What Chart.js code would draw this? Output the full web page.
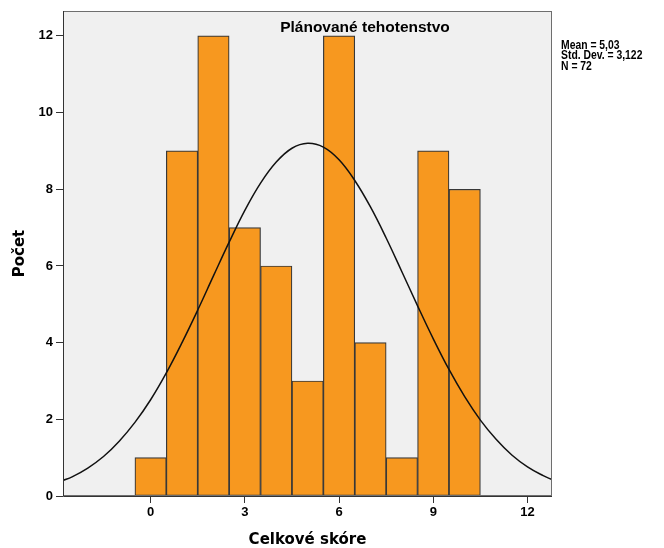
<!DOCTYPE html>
<html>
<head>
<meta charset="utf-8">
<script src="https://cdn.jsdelivr.net/npm/chart.js@4/dist/chart.umd.min.js"></script>
<style>
    html, body { margin: 0; padding: 0; background: #fff; }
    #wrap { width: 664px; height: 548px; }
</style>
</head>
<body>
<div id="wrap"><canvas id="chart" width="664" height="548"></canvas></div>
<script>
// Histogram: Celkové skóre (Plánované tehotenstvo)
const scores = [0, 1, 2, 3, 4, 5, 6, 7, 8, 9, 10];
const counts = [1, 9, 12, 7, 6, 3, 12, 4, 1, 9, 8];

// normálna krivka, odčítaná z obrázka
const curveX = [-2.8, -2.5, -2, -1.5, -1, -0.5, 0, 0.5, 1, 1.5, 2, 2.5, 3, 3.5, 4, 4.5, 5,
    5.5, 6, 6.5, 7, 7.5, 8, 8.5, 9, 9.5, 10, 10.5, 11, 11.5, 12, 12.5, 12.8];
const curveY = [0.40, 0.50, 0.73, 1.03, 1.43, 1.92, 2.51, 3.21, 4.00, 4.85, 5.74, 6.62, 7.45, 8.16, 8.71, 9.07, 9.20,
    9.10, 8.77, 8.23, 7.54, 6.73, 5.85, 4.96, 4.10, 3.30, 2.59, 1.98, 1.48, 1.07, 0.76, 0.53, 0.42];

const xTicks = [0, 3, 6, 9, 12];
const yTicks = [0, 2, 4, 6, 8, 10, 12];

const stats = ['Mean = 5,03', 'Std. Dev. = 3,122', 'N = 72'];
const panelTitle = 'Plánované tehotenstvo';

const FONT = "'Liberation Sans', Arial, sans-serif";
const TITLE_FONT = "'DejaVu Sans', Verdana, sans-serif";

const frame = {
    id: 'frame',
    beforeDatasetsDraw(chart) {
        const { ctx, chartArea: a } = chart;
        ctx.save();
        ctx.fillStyle = '#f0f0f0';
        ctx.fillRect(a.left, a.top, a.right - a.left, a.bottom - a.top);
        ctx.restore();
    },
    afterDraw(chart) {
        const { ctx, chartArea: a } = chart;
        ctx.save();
        ctx.strokeStyle = '#6e6e6e';
        ctx.lineWidth = 1;
        ctx.strokeRect(a.left + 0.5, a.top + 0.5, a.right - a.left - 1, a.bottom - a.top - 1);
        ctx.strokeStyle = '#333';
        ctx.beginPath();
        ctx.moveTo(a.left + 0.5, a.top);
        ctx.lineTo(a.left + 0.5, a.bottom + 0.5);
        ctx.lineTo(a.right, a.bottom + 0.5);
        ctx.stroke();

        // nadpis vo vnútri grafu
        ctx.fillStyle = '#000';
        ctx.font = 'bold 15.5px ' + FONT;
        ctx.textAlign = 'center';
        ctx.textBaseline = 'middle';
        ctx.fillText(panelTitle, 365, 28);

        // štatistiky vpravo (zúžené písmo)
        ctx.font = 'bold 12.5px ' + FONT;
        ctx.textAlign = 'left';
        ctx.textBaseline = 'alphabetic';
        stats.forEach((s, i) => {
            ctx.save();
            ctx.translate(561, 48.5 + i * 10.6);
            ctx.scale(0.83, 1);
            ctx.fillText(s, 0, 0);
            ctx.restore();
        });
        ctx.restore();
    }
};

const ctx = document.getElementById('chart').getContext('2d');
new Chart(ctx, {
    type: 'bar',
    data: {
        datasets: [
            {
                type: 'line',
                data: curveX.map((x, i) => ({ x: x, y: curveY[i] })),
                borderColor: '#111',
                borderWidth: 1.5,
                pointRadius: 0,
                tension: 0.4,
                fill: false,
                order: 0
            },
            {
                type: 'bar',
                data: scores.map((x, i) => ({ x: x, y: counts[i] })),
                backgroundColor: '#f7981f',
                borderColor: '#383838',
                borderWidth: 1.2,
                borderSkipped: false,
                barPercentage: 1,
                categoryPercentage: 1,
                order: 1
            }
        ]
    },
    options: {
        responsive: false,
        animation: false,
        layout: { padding: { left: 0, top: 11, right: 112, bottom: 0 } },
        plugins: {
            legend: { display: false },
            tooltip: { enabled: false },
            title: { display: false }
        },
        scales: {
            x: {
                type: 'linear',
                min: -2.79,
                max: 12.78,
                offset: false,
                afterBuildTicks: s => { s.ticks = xTicks.map(v => ({ value: v })); },
                afterFit: s => { s.height = 52; },
                grid: { drawOnChartArea: false, drawTicks: true, tickLength: 7, color: '#333', offset: false },
                border: { display: false },
                ticks: { color: '#000', padding: 2, font: { family: FONT, size: 13, weight: 'bold' } },
                title: {
                    display: true,
                    text: 'Celkové skóre',
                    color: '#000',
                    font: { family: TITLE_FONT, size: 15, weight: 'bold', lineHeight: 1 },
                    padding: { top: 0, bottom: 0 }
                }
            },
            y: {
                min: 0,
                max: 12.65,
                afterBuildTicks: s => { s.ticks = yTicks.map(v => ({ value: v })); },
                afterFit: s => { s.width = 63; },
                grid: { drawOnChartArea: false, drawTicks: true, tickLength: 7, color: '#333' },
                border: { display: false },
                ticks: { color: '#000', padding: 3, font: { family: FONT, size: 13, weight: 'bold' } },
                title: {
                    display: true,
                    text: 'Počet',
                    color: '#000',
                    font: { family: TITLE_FONT, size: 15, weight: 'bold', lineHeight: 1 },
                    padding: { top: 13, bottom: 0 }
                }
            }
        }
    },
    plugins: [frame]
});
</script>
</body>
</html>
